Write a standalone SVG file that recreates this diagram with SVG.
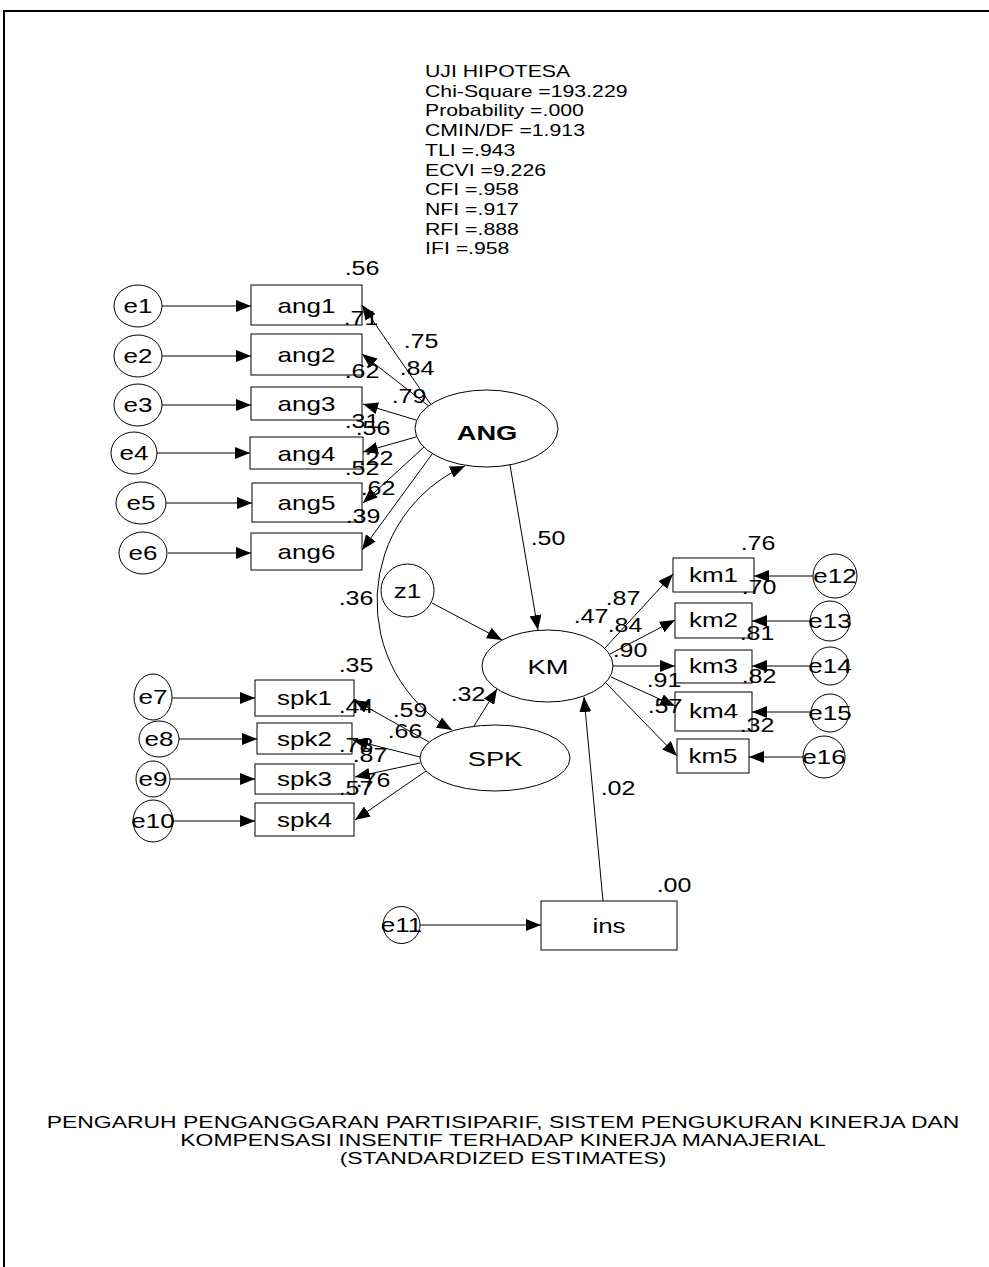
<svg xmlns="http://www.w3.org/2000/svg" width="989" height="1267" viewBox="0 0 989 1267">
<defs>
<marker id="ah" viewBox="0 0 15 12" refX="15" refY="6" markerWidth="15" markerHeight="12" markerUnits="userSpaceOnUse" orient="auto-start-reverse"><path d="M0,0 L15,6 L0,12 z" fill="#000"/></marker>
</defs>
<style>
text{font-family:"Liberation Sans",Arial,sans-serif;fill:#000}
.lb{font-size:20px;text-anchor:middle}
.nm{font-size:20px;text-anchor:middle}
.big{font-size:21px;text-anchor:middle}
.bold{font-weight:bold}
.st{font-size:17px}
.ti{font-size:17px;text-anchor:middle}
.box{fill:#fff;stroke:#000;stroke-width:1}
.ov{fill:#fff;stroke:#000;stroke-width:1}
.c line,.c path{stroke:#000;stroke-width:1;fill:none;marker-end:url(#ah)}
</style>
<rect x="0" y="0" width="989" height="1267" fill="#fff"/>
<g id="frame" stroke="#000" stroke-width="2" fill="none">
<line x1="3" y1="11" x2="989" y2="11"/>
<line x1="4" y1="10" x2="4" y2="1267"/>
</g>
<g id="stats">
<text class="st" transform="translate(425,77) scale(1.25,1)">UJI HIPOTESA</text>
<text class="st" transform="translate(425,96.7) scale(1.25,1)">Chi-Square =193.229</text>
<text class="st" transform="translate(425,116.4) scale(1.25,1)">Probability =.000</text>
<text class="st" transform="translate(425,136.1) scale(1.25,1)">CMIN/DF =1.913</text>
<text class="st" transform="translate(425,155.8) scale(1.25,1)">TLI =.943</text>
<text class="st" transform="translate(425,175.5) scale(1.25,1)">ECVI =9.226</text>
<text class="st" transform="translate(425,195.2) scale(1.25,1)">CFI =.958</text>
<text class="st" transform="translate(425,214.9) scale(1.25,1)">NFI =.917</text>
<text class="st" transform="translate(425,234.6) scale(1.25,1)">RFI =.888</text>
<text class="st" transform="translate(425,254.3) scale(1.25,1)">IFI =.958</text>
</g>
<g id="connectors" class="c">
<line x1="162" y1="306" x2="251" y2="306"/>
<line x1="162" y1="356" x2="251" y2="356"/>
<line x1="162" y1="405" x2="251" y2="405"/>
<line x1="157" y1="453" x2="250" y2="453"/>
<line x1="166" y1="503" x2="252" y2="503"/>
<line x1="168" y1="553" x2="251" y2="553"/>
<line x1="430.5" y1="404" x2="362" y2="305"/>
<line x1="428.7" y1="406" x2="362" y2="354"/>
<line x1="416" y1="420" x2="363" y2="404"/>
<line x1="416" y1="437" x2="363" y2="452"/>
<line x1="424" y1="447" x2="363" y2="503"/>
<line x1="432.5" y1="453.5" x2="362" y2="550"/>
<line x1="510" y1="465" x2="538" y2="630"/>
<line x1="432" y1="603" x2="502" y2="640"/>
<line x1="474" y1="726" x2="497" y2="689"/>
<line x1="603" y1="901" x2="584" y2="697"/>
<line x1="420" y1="925" x2="541" y2="925"/>
<path d="M465,466 A148,148 0 0 0 452,730" style="marker-start:url(#ah)"/>
<line x1="172" y1="698" x2="255" y2="698"/>
<line x1="179" y1="739" x2="257" y2="739"/>
<line x1="170" y1="779" x2="255" y2="779"/>
<line x1="173" y1="821" x2="255" y2="821"/>
<line x1="429" y1="742" x2="354" y2="700"/>
<line x1="420" y1="757" x2="353" y2="740"/>
<line x1="420" y1="763" x2="355" y2="777"/>
<line x1="426" y1="771" x2="355" y2="820"/>
<line x1="605" y1="648" x2="673" y2="574"/>
<line x1="610" y1="654" x2="675" y2="620"/>
<line x1="613" y1="666" x2="675" y2="666"/>
<line x1="611" y1="677" x2="675" y2="706"/>
<line x1="606" y1="683" x2="677" y2="756"/>
<line x1="813" y1="576" x2="754" y2="576"/>
<line x1="813" y1="621" x2="752" y2="621"/>
<line x1="812" y1="666" x2="752" y2="666"/>
<line x1="812" y1="712" x2="752" y2="712"/>
<line x1="803" y1="757" x2="749" y2="757"/>
</g>
<g id="e1"><ellipse class="ov" cx="138" cy="306" rx="24" ry="21"/><text class="lb" transform="translate(138,313) scale(1.3,1)">e1</text></g>
<g id="e2"><ellipse class="ov" cx="138" cy="356" rx="24" ry="21"/><text class="lb" transform="translate(138,363) scale(1.3,1)">e2</text></g>
<g id="e3"><ellipse class="ov" cx="138" cy="405" rx="24" ry="21"/><text class="lb" transform="translate(138,412) scale(1.3,1)">e3</text></g>
<g id="e4"><ellipse class="ov" cx="134" cy="453" rx="23" ry="21"/><text class="lb" transform="translate(134,460) scale(1.3,1)">e4</text></g>
<g id="e5"><ellipse class="ov" cx="141" cy="503" rx="25" ry="21"/><text class="lb" transform="translate(141,510) scale(1.3,1)">e5</text></g>
<g id="e6"><ellipse class="ov" cx="143" cy="553" rx="24" ry="21"/><text class="lb" transform="translate(143,560) scale(1.3,1)">e6</text></g>
<g id="ang1"><rect class="box" x="251" y="285" width="111" height="40"/><text class="lb" transform="translate(306.5,313) scale(1.3,1)">ang1</text></g>
<g id="ang2"><rect class="box" x="251" y="334" width="111" height="41"/><text class="lb" transform="translate(306.5,362) scale(1.3,1)">ang2</text></g>
<g id="ang3"><rect class="box" x="251" y="387" width="111" height="33"/><text class="lb" transform="translate(306.5,411) scale(1.3,1)">ang3</text></g>
<g id="ang4"><rect class="box" x="250" y="437" width="113" height="32"/><text class="lb" transform="translate(306.5,461) scale(1.3,1)">ang4</text></g>
<g id="ang5"><rect class="box" x="252" y="483" width="110" height="39"/><text class="lb" transform="translate(306.5,510) scale(1.3,1)">ang5</text></g>
<g id="ang6"><rect class="box" x="251" y="533" width="111" height="37"/><text class="lb" transform="translate(306.5,559) scale(1.3,1)">ang6</text></g>
<g id="ANG"><ellipse class="ov" cx="486.5" cy="428.5" rx="71.5" ry="38.5"/><text class="big bold" transform="translate(487,440) scale(1.3,1)">ANG</text></g>
<g id="z1"><circle class="ov" cx="407.5" cy="590.5" r="26.5"/><text class="lb" transform="translate(407.5,598) scale(1.3,1)">z1</text></g>
<g id="KM"><ellipse class="ov" cx="547.5" cy="666" rx="65.5" ry="36"/><text class="big" transform="translate(548,674) scale(1.3,1)">KM</text></g>
<g id="SPK"><ellipse class="ov" cx="495" cy="758" rx="75" ry="33"/><text class="big" transform="translate(495,766) scale(1.3,1)">SPK</text></g>
<g id="e7"><ellipse class="ov" cx="153" cy="697" rx="19" ry="23"/><text class="lb" transform="translate(153,704) scale(1.3,1)">e7</text></g>
<g id="e8"><ellipse class="ov" cx="159" cy="739" rx="20" ry="18"/><text class="lb" transform="translate(159,746) scale(1.3,1)">e8</text></g>
<g id="e9"><ellipse class="ov" cx="153" cy="779" rx="17" ry="18"/><text class="lb" transform="translate(153,786) scale(1.3,1)">e9</text></g>
<g id="e10"><ellipse class="ov" cx="153" cy="821" rx="20" ry="21"/><text class="lb" transform="translate(153,828) scale(1.3,1)">e10</text></g>
<g id="spk1"><rect class="box" x="255" y="680" width="99" height="36"/><text class="lb" transform="translate(304.5,705) scale(1.3,1)">spk1</text></g>
<g id="spk2"><rect class="box" x="257" y="723" width="95" height="31"/><text class="lb" transform="translate(304.5,746) scale(1.3,1)">spk2</text></g>
<g id="spk3"><rect class="box" x="255" y="764" width="99" height="30"/><text class="lb" transform="translate(304.5,786) scale(1.3,1)">spk3</text></g>
<g id="spk4"><rect class="box" x="255" y="803" width="99" height="33"/><text class="lb" transform="translate(304.5,827) scale(1.3,1)">spk4</text></g>
<g id="km1"><rect class="box" x="673" y="558" width="81" height="34"/><text class="lb" transform="translate(713.5,582) scale(1.3,1)">km1</text></g>
<g id="km2"><rect class="box" x="675" y="603" width="77" height="35"/><text class="lb" transform="translate(713.5,627) scale(1.3,1)">km2</text></g>
<g id="km3"><rect class="box" x="675" y="650" width="77" height="33"/><text class="lb" transform="translate(713.5,673) scale(1.3,1)">km3</text></g>
<g id="km4"><rect class="box" x="675" y="692" width="77" height="39"/><text class="lb" transform="translate(713.5,718) scale(1.3,1)">km4</text></g>
<g id="km5"><rect class="box" x="677" y="739" width="72" height="34"/><text class="lb" transform="translate(713,763) scale(1.3,1)">km5</text></g>
<g id="e12"><circle class="ov" cx="835" cy="576" r="22"/><text class="lb" transform="translate(835,583) scale(1.3,1)">e12</text></g>
<g id="e13"><circle class="ov" cx="830" cy="621" r="20"/><text class="lb" transform="translate(830,628) scale(1.3,1)">e13</text></g>
<g id="e14"><circle class="ov" cx="830" cy="666" r="19"/><text class="lb" transform="translate(830,673) scale(1.3,1)">e14</text></g>
<g id="e15"><circle class="ov" cx="830" cy="713" r="19"/><text class="lb" transform="translate(830,720) scale(1.3,1)">e15</text></g>
<g id="e16"><circle class="ov" cx="824" cy="757" r="21"/><text class="lb" transform="translate(824,764) scale(1.3,1)">e16</text></g>
<g id="ins"><rect class="box" x="541" y="901" width="136" height="49"/><text class="lb" transform="translate(609,933) scale(1.3,1)">ins</text></g>
<g id="e11"><circle class="ov" cx="401.5" cy="925" r="18.5"/><text class="lb" transform="translate(401.5,932) scale(1.3,1)">e11</text></g>
<g id="labels">
<text class="nm" transform="translate(362,275) scale(1.25,1)">.56</text>
<text class="nm" transform="translate(361,325) scale(1.25,1)">.71</text>
<text class="nm" transform="translate(421,348) scale(1.25,1)">.75</text>
<text class="nm" transform="translate(417,375) scale(1.25,1)">.84</text>
<text class="nm" transform="translate(362,378) scale(1.25,1)">.62</text>
<text class="nm" transform="translate(409,403) scale(1.25,1)">.79</text>
<text class="nm" transform="translate(362,428) scale(1.25,1)">.31</text>
<text class="nm" transform="translate(373,435) scale(1.25,1)">.56</text>
<text class="nm" transform="translate(376,465) scale(1.25,1)">.22</text>
<text class="nm" transform="translate(362,475) scale(1.25,1)">.52</text>
<text class="nm" transform="translate(378,495) scale(1.25,1)">.62</text>
<text class="nm" transform="translate(363,523) scale(1.25,1)">.39</text>
<text class="nm" transform="translate(548,545) scale(1.25,1)">.50</text>
<text class="nm" transform="translate(356,605) scale(1.25,1)">.36</text>
<text class="nm" transform="translate(356,672) scale(1.25,1)">.35</text>
<text class="nm" transform="translate(591,623) scale(1.25,1)">.47</text>
<text class="nm" transform="translate(623,605) scale(1.25,1)">.87</text>
<text class="nm" transform="translate(625,632) scale(1.25,1)">.84</text>
<text class="nm" transform="translate(630,657) scale(1.25,1)">.90</text>
<text class="nm" transform="translate(664,687) scale(1.25,1)">.91</text>
<text class="nm" transform="translate(665,713) scale(1.25,1)">.57</text>
<text class="nm" transform="translate(758,550) scale(1.25,1)">.76</text>
<text class="nm" transform="translate(759,594) scale(1.25,1)">.70</text>
<text class="nm" transform="translate(757,640) scale(1.25,1)">.81</text>
<text class="nm" transform="translate(759,683) scale(1.25,1)">.82</text>
<text class="nm" transform="translate(757,732) scale(1.25,1)">.32</text>
<text class="nm" transform="translate(618,795) scale(1.25,1)">.02</text>
<text class="nm" transform="translate(674,892) scale(1.25,1)">.00</text>
<text class="nm" transform="translate(468,701) scale(1.25,1)">.32</text>
<text class="nm" transform="translate(410,717) scale(1.25,1)">.59</text>
<text class="nm" transform="translate(405,738) scale(1.25,1)">.66</text>
<text class="nm" transform="translate(356,713) scale(1.25,1)">.44</text>
<text class="nm" transform="translate(356,752) scale(1.25,1)">.78</text>
<text class="nm" transform="translate(370,762) scale(1.25,1)">.87</text>
<text class="nm" transform="translate(373,787) scale(1.25,1)">.76</text>
<text class="nm" transform="translate(356,795) scale(1.25,1)">.57</text>
</g>
<g id="title">
<text class="ti" transform="translate(503,1128) scale(1.35,1)">PENGARUH PENGANGGARAN PARTISIPARIF, SISTEM PENGUKURAN KINERJA DAN</text>
<text class="ti" transform="translate(503,1146) scale(1.35,1)">KOMPENSASI INSENTIF TERHADAP KINERJA MANAJERIAL</text>
<text class="ti" transform="translate(503,1164) scale(1.35,1)">(STANDARDIZED ESTIMATES)</text>
</g>
</svg>
